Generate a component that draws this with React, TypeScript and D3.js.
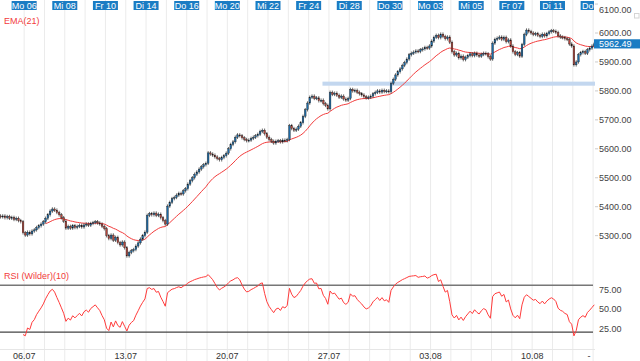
import { useRef, useEffect } from 'react'
import * as d3 from 'd3'

// Hourly closes, Fri 03.07 (partial) .. Thu 13.08 (first bar)
const preCloses = [5365, 5368, 5362, 5366, 5360, 5363, 5356, 5360, 5352, 5348, 5310]
const dayCloses: number[][] = [
  [5302, 5312, 5306, 5316, 5320, 5328, 5334, 5340, 5348],
  [5360, 5372, 5385, 5392, 5388, 5380, 5372, 5362, 5350],
  [5326, 5332, 5326, 5334, 5328, 5332, 5336, 5330, 5337],
  [5340, 5336, 5342, 5345, 5348, 5344, 5340, 5332, 5324],
  [5300, 5290, 5302, 5284, 5294, 5276, 5268, 5278, 5258],
  [5230, 5242, 5248, 5252, 5264, 5275, 5288, 5300, 5312],
  [5370, 5376, 5372, 5378, 5370, 5374, 5362, 5352, 5340],
  [5402, 5415, 5428, 5432, 5440, 5446, 5444, 5455, 5462],
  [5478, 5490, 5500, 5512, 5520, 5530, 5538, 5545, 5550],
  [5586, 5582, 5578, 5572, 5566, 5562, 5570, 5576, 5585],
  [5600, 5615, 5624, 5640, 5648, 5645, 5638, 5632, 5628],
  [5630, 5636, 5640, 5645, 5650, 5660, 5664, 5652, 5640],
  [5632, 5626, 5620, 5626, 5628, 5624, 5630, 5628, 5632],
  [5680, 5670, 5664, 5668, 5678, 5690, 5712, 5735, 5758],
  [5778, 5782, 5774, 5776, 5766, 5768, 5756, 5750, 5738],
  [5795, 5788, 5792, 5785, 5778, 5782, 5772, 5768, 5774],
  [5805, 5800, 5802, 5795, 5790, 5786, 5780, 5776, 5778],
  [5782, 5790, 5795, 5800, 5796, 5802, 5798, 5800, 5797],
  [5826, 5840, 5855, 5866, 5876, 5888, 5898, 5910, 5925],
  [5930, 5934, 5938, 5936, 5942, 5945, 5950, 5948, 5955],
  [5972, 5985, 5992, 5984, 5996, 5988, 5980, 5986, 5968],
  [5935, 5924, 5930, 5914, 5920, 5908, 5916, 5922, 5928],
  [5922, 5930, 5924, 5920, 5926, 5930, 5928, 5918, 5910],
  [5965, 5978, 5982, 5986, 5978, 5985, 5970, 5976, 5955],
  [5935, 5926, 5932, 5920, 5960, 5995, 6010, 6005, 6000],
  [5995, 5998, 5992, 5988, 5996, 5990, 5998, 6004, 6008],
  [6006, 6002, 5990, 5986, 5984, 5980, 5978, 5962, 5955],
  [5890, 5900, 5925, 5932, 5936, 5930, 5942, 5948, 5955],
  [5962.49],
]

const topLabels = ['Mo 06', 'Mi 08', 'Fr 10', 'Di 14', 'Do 16', 'Mo 20', 'Mi 22', 'Fr 24', 'Di 28', 'Do 30', 'Mo 03', 'Mi 05', 'Fr 07', 'Di 11', 'Do 13']
const topLabelDays = [0, 2, 4, 6, 8, 10, 12, 14, 16, 18, 20, 22, 24, 26, 28]
const weekLabels = ['06.07', '13.07', '20.07', '27.07', '03.08', '10.08']
const weekLabelDays = [0, 5, 10, 15, 20, 25]
const priceTicks = [5300, 5400, 5500, 5600, 5700, 5800, 5900, 6000, 6100]
const rsiTicks = [25, 50, 75]
const rsiLevels = [80, 20]
const zoneLow = 5818
const zoneHigh = 5832
const zoneStart = 143
const lastPrice = 5962.49

const FONT = 'Liberation Sans, Arial, sans-serif'
const WICK = 6

export default function App() {
  const svgRef = useRef<SVGSVGElement>(null)

  useEffect(() => {
    if (!svgRef.current) return
    const svg = d3.select(svgRef.current)
    svg.selectAll('*').remove()

    const width = 640
    const plotRight = 595
    const closes = preCloses.concat(...dayCloses)
    const dayStart = dayCloses.map((_, k) => preCloses.length + k * 9)

    const candles = closes.map((c, i) => {
      const o = i === 0 ? c + 3 : closes[i - 1]
      return { i, o, c, h: Math.max(o, c) + WICK, l: Math.min(o, c) - WICK }
    })

    // EMA(21)
    const ema: { i: number; v: number }[] = []
    let e = d3.mean(closes.slice(0, 21)) as number
    ema.push({ i: 20, v: e })
    for (let i = 21; i < closes.length; i++) {
      e = e + (2 / 22) * (closes[i] - e)
      ema.push({ i, v: e })
    }

    // RSI Wilder(10)
    const rsi: { i: number; v: number }[] = []
    let ag = 0
    let al = 0
    for (let i = 1; i <= 10; i++) {
      const d = closes[i] - closes[i - 1]
      ag += Math.max(d, 0) / 10
      al += Math.max(-d, 0) / 10
    }
    rsi.push({ i: 10, v: 100 - 100 / (1 + ag / al) })
    for (let i = 11; i < closes.length; i++) {
      const d = closes[i] - closes[i - 1]
      ag = (ag * 9 + Math.max(d, 0)) / 10
      al = (al * 9 + Math.max(-d, 0)) / 10
      rsi.push({ i, v: al === 0 ? 100 : 100 - 100 / (1 + ag / al) })
    }

    const x = d3
      .scaleBand<number>()
      .domain(d3.range(closes.length))
      .range([-0.4, 595.1])
      .paddingInner(0.25)
    const step = x.step()
    const cx = (i: number) => (x(i) as number) + x.bandwidth() / 2
    const dayX = (k: number) => (x(dayStart[k]) as number) - (step * 0.25) / 2

    const y = d3.scaleLinear().domain([5209, 6114]).range([262, 0])
    const yr = d3.scaleLinear().domain([0, 100]).range([347.7, 269.7])

    svg.append('rect').attr('width', width).attr('height', 361).attr('fill', '#fff')

    // Day grid
    svg
      .append('g')
      .selectAll('line')
      .data(dayStart)
      .join('line')
      .attr('x1', (_, k) => dayX(k))
      .attr('x2', (_, k) => dayX(k))
      .attr('y1', 0)
      .attr('y2', 361)
      .attr('stroke', '#ebebeb')
      .attr('stroke-width', 1)

    svg
      .append('line')
      .attr('x1', 0)
      .attr('x2', plotRight)
      .attr('y1', 349.5)
      .attr('y2', 349.5)
      .attr('stroke', '#e6e6e6')

    // Resistance zone
    svg
      .append('rect')
      .attr('x', x(zoneStart) as number)
      .attr('width', plotRight - (x(zoneStart) as number))
      .attr('y', y(zoneHigh))
      .attr('height', y(zoneLow) - y(zoneHigh))
      .attr('fill', '#c3d7ef')

    // EMA
    svg
      .append('path')
      .datum(ema)
      .attr('fill', 'none')
      .attr('stroke', '#f23c3c')
      .attr('stroke-width', 1)
      .attr('d', d3.line<{ i: number; v: number }>().x((d) => cx(d.i)).y((d) => y(d.v)))

    // Candles
    const cg = svg.append('g')
    cg.selectAll('line')
      .data(candles)
      .join('line')
      .attr('x1', (d) => cx(d.i))
      .attr('x2', (d) => cx(d.i))
      .attr('y1', (d) => y(d.h))
      .attr('y2', (d) => y(d.l))
      .attr('stroke', '#2a2a2a')
      .attr('stroke-width', 0.7)
    cg.selectAll('rect')
      .data(candles)
      .join('rect')
      .attr('x', (d) => x(d.i) as number)
      .attr('width', x.bandwidth())
      .attr('y', (d) => y(Math.max(d.o, d.c)))
      .attr('height', (d) => Math.max(1, Math.abs(y(d.o) - y(d.c))))
      .attr('fill', (d) => (d.c >= d.o ? '#1d6aa5' : '#b2463c'))
      .attr('stroke', '#1a1a1a')
      .attr('stroke-width', 0.35)

    // Top date labels (clipped to plot)
    svg
      .append('clipPath')
      .attr('id', 'plotclip')
      .append('rect')
      .attr('x', 0)
      .attr('y', 0)
      .attr('width', plotRight - 1)
      .attr('height', 361)
    const tl = svg.append('g').attr('clip-path', 'url(#plotclip)')
    topLabels.forEach((t, j) => {
      const px = dayX(topLabelDays[j])
      const cut = px + 12.5 > plotRight
      tl.append('rect')
        .attr('x', px - 12.5)
        .attr('y', 1)
        .attr('width', 25)
        .attr('height', 9)
        .attr('fill', '#1b7cc3')
      // a label running past the plot edge only shows its weekday
      tl.append('text')
        .attr('x', cut ? px - 11.2 : px)
        .attr('y', 8.6)
        .attr('text-anchor', cut ? 'start' : 'middle')
        .attr('font-family', FONT)
        .attr('font-size', 9)
        .attr('fill', '#fff')
        .text(cut ? t.split(' ')[0] : t)
    })

    svg
      .append('text')
      .attr('x', 4)
      .attr('y', 23.5)
      .attr('font-family', FONT)
      .attr('font-size', 9)
      .attr('fill', '#f23c3c')
      .text('EMA(21)')

    // Price axis
    priceTicks.forEach((p) => {
      const py = Math.max(y(p), 9.3)
      svg
        .append('line')
        .attr('x1', plotRight)
        .attr('x2', plotRight + 3)
        .attr('y1', y(p))
        .attr('y2', y(p))
        .attr('stroke', '#ccc')
      svg
        .append('text')
        .attr('x', 599)
        .attr('y', py + 3.3)
        .attr('font-family', FONT)
        .attr('font-size', 9)
        .attr('fill', '#444')
        .text(p.toFixed(2))
    })

    svg
      .append('rect')
      .attr('x', 594)
      .attr('y', y(lastPrice) - 4.6)
      .attr('width', 46)
      .attr('height', 9.2)
      .attr('fill', '#1b7cc3')
    svg
      .append('text')
      .attr('x', 599)
      .attr('y', y(lastPrice) + 3.2)
      .attr('font-family', FONT)
      .attr('font-size', 9)
      .attr('fill', '#fff')
      .text(lastPrice.toFixed(2))

    // small panel icon
    svg
      .append('rect')
      .attr('x', 634.5)
      .attr('y', 13.5)
      .attr('width', 4.5)
      .attr('height', 4.5)
      .attr('fill', 'none')
      .attr('stroke', '#d4d4d4')

    // RSI panel
    rsiLevels.forEach((v, j) => {
      svg
        .append('line')
        .attr('x1', 0)
        .attr('x2', plotRight - 2)
        .attr('y1', yr(v))
        .attr('y2', yr(v))
        .attr('stroke', j === 0 ? '#777' : '#444')
        .attr('stroke-width', j === 0 ? 1.5 : 1.1)
    })
    svg
      .append('path')
      .datum(rsi)
      .attr('fill', 'none')
      .attr('stroke', '#ff3b3b')
      .attr('stroke-width', 1)
      .attr('d', d3.line<{ i: number; v: number }>().x((d) => cx(d.i)).y((d) => yr(d.v)))

    rsiTicks.forEach((v) => {
      svg
        .append('text')
        .attr('x', 599)
        .attr('y', yr(v) + 3.3)
        .attr('font-family', FONT)
        .attr('font-size', 9)
        .attr('fill', '#444')
        .text(v.toFixed(2))
    })

    svg
      .append('text')
      .attr('x', 4)
      .attr('y', 278.5)
      .attr('font-family', FONT)
      .attr('font-size', 9)
      .attr('fill', '#f23c3c')
      .text('RSI (Wilder)(10)')

    weekLabels.forEach((t, j) => {
      svg
        .append('text')
        .attr('x', dayX(weekLabelDays[j]))
        .attr('y', 359)
        .attr('text-anchor', 'middle')
        .attr('font-family', FONT)
        .attr('font-size', 9)
        .attr('fill', '#333')
        .text(t)
    })
    svg
      .append('text')
      .attr('x', dayX(28) - 4)
      .attr('y', 359)
      .attr('text-anchor', 'middle')
      .attr('font-family', FONT)
      .attr('font-size', 9)
      .attr('fill', '#333')
      .text('-')
  }, [])

  return (
    <svg
      ref={svgRef}
      width={640}
      height={361}
      style={{ position: 'absolute', left: 0, top: 0, display: 'block' }}
    />
  )
}
